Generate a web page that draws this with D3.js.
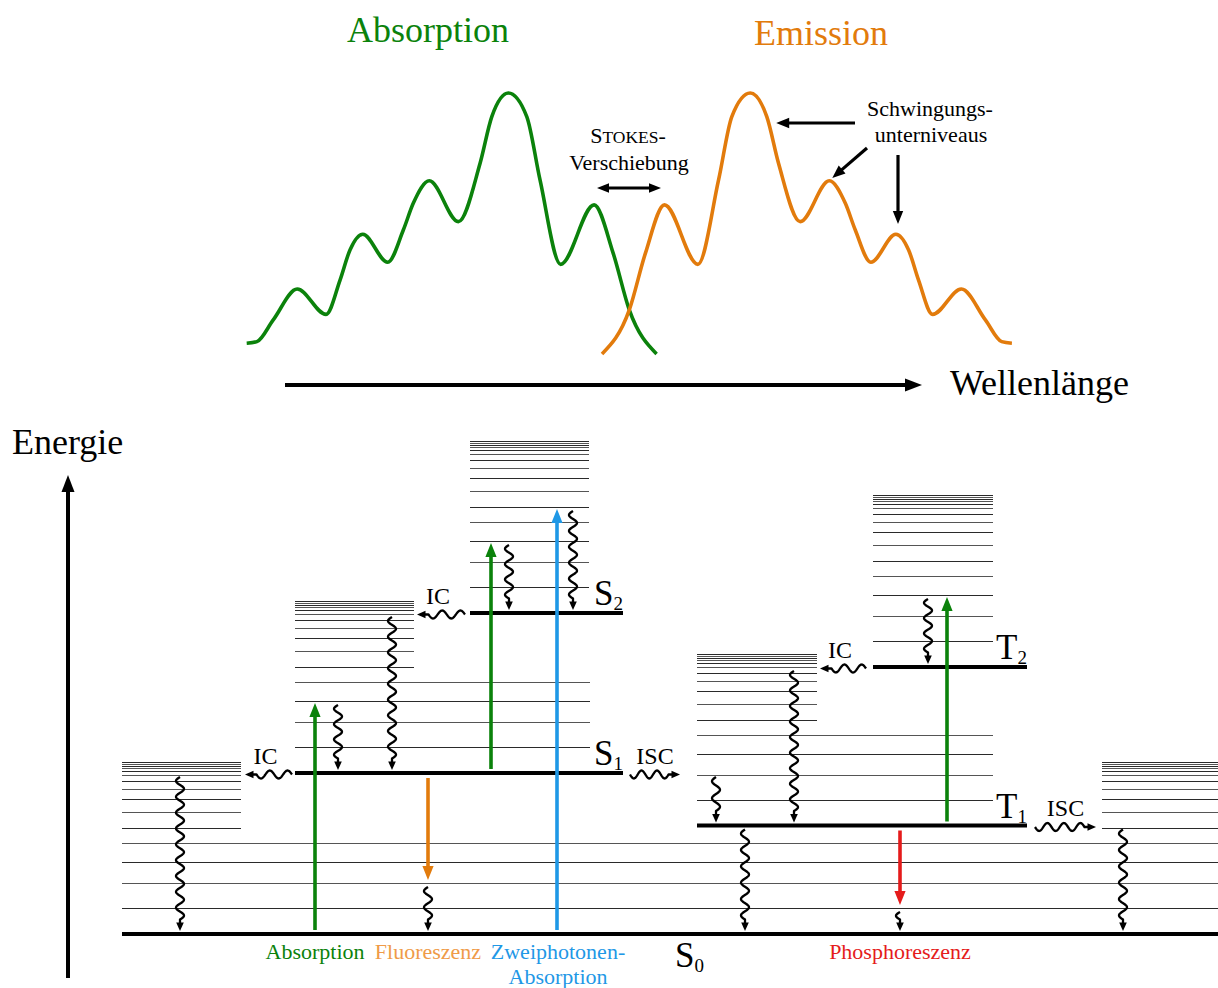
<!DOCTYPE html>
<html>
<head>
<meta charset="utf-8">
<script src="https://cdn.jsdelivr.net/npm/d3@7"></script>
<style>
  html, body { margin: 0; padding: 0; background: #fff; }
  svg { display: block; }
</style>
</head>
<body>
<svg id="chart" width="1218" height="988"></svg>
<script>
// ---------- spectra: wavelength (nm) and relative intensity ----------
const absWavelength = [400.0, 404.0, 410.4, 419.8, 431.1, 436.6, 440.5, 445.5, 455.3, 461.4, 465.3, 471.6,
                       483.0, 491.5, 496.1, 502.6, 509.8, 515.0, 523.1, 536.2, 543.7, 550.0, 560.7];
const absIntensity  = [0.045, 0.051, 0.134, 0.252, 0.155, 0.286, 0.401, 0.461, 0.354, 0.477, 0.579, 0.665,
                       0.509, 0.732, 0.910, 1.000, 0.910, 0.668, 0.346, 0.573, 0.388, 0.172, 0.004];
const emWavelength  = [539.3, 550.0, 556.3, 563.8, 576.9, 585.0, 590.2, 597.4, 603.9, 608.5, 617.0, 628.4,
                       634.7, 638.6, 644.7, 654.5, 659.5, 663.4, 668.9, 680.2, 689.6, 696.0, 700.0];
const emIntensity   = [0.004, 0.172, 0.388, 0.573, 0.346, 0.668, 0.910, 1.000, 0.910, 0.732, 0.509, 0.665,
                       0.579, 0.477, 0.354, 0.461, 0.401, 0.286, 0.155, 0.252, 0.134, 0.051, 0.045];

// ---------- electronic states (energy of vibrational ground level, arb. units) ----------
const stateNames    = ["S0", "S1", "S2", "T1", "T2"];
const stateEnergies = [0, 161, 321, 108.5, 267];
// vibrational sublevels above each electronic ground level
const vibOffsets    = [26, 51, 72, 91, 106, 122, 135, 145, 153, 159, 163, 166, 168, 170, 172];

// ---------- radiative transitions ----------
const radFromState = ["S0", "S1", "S0", "T1", "S1", "T1"];
const radToState   = ["S1", "S2", "S2", "T2", "S0", "S0"];
const radToLevel   = [3, 3, 5, 3, 2, 1];
const radKind      = ["abs", "abs", "tpa", "abs", "fluo", "phos"];

// ---------- vibrational relaxation (start state / sublevel -> ground level of target) ----------
const vrFromState = ["S1", "S1", "S2", "S2", "S2", "S0", "S1", "T2", "T2", "T1", "S0", "T1"];
const vrFromLevel = [0, 3, 0, 3, 5, 2, 0, 0, 3, 0, 1, 0];
const vrToState   = ["S0", "S1", "S1", "S2", "S2", "S0", "T1", "T1", "T2", "S0", "S0", "S0"];

// ---------- crossings between states ----------
const xingLabels = ["IC", "IC", "ISC", "IC", "ISC"];
const xingState  = ["S1", "S2", "S1", "T2", "T1"];

// ---------- text ----------
const bottomLabels = ["Absorption", "Fluoreszenz", "Zweiphotonen-", "Phosphoreszenz"];

// =====================================================================
const W = 1218, H = 988;
const FONT = "'Liberation Serif','Times New Roman',Times,serif";
const COL = {
  green: "#0b820b", orange: "#e27b0c", orangeText: "#ef9b48",
  blue: "#1f98e6", red: "#e51b1b", ink: "#000", level: "#2a2a2a"
};

const svg = d3.select("#chart");

// scales
const xSpec = d3.scaleLinear().domain([400, 700]).range([246.7, 1011.9]);
const ySpec = d3.scaleLinear().domain([0, 1]).range([355, 93]);
const yE    = d3.scaleLinear().domain([0, 500]).range([934, 434]);
const xPos  = d3.scaleLinear().domain([0, W]).range([0, W]);

// horizontal layout of the diagram (diagram units)
const stateLayout = {
  S0: { base: [122, 1218], low: [[122, 1218]], high: [[122, 241], [1102, 1218]] },
  S1: { base: [295, 623],  low: [[295, 590]],  high: [[295, 414]] },
  S2: { base: [470, 623],  low: [[470, 589]],  high: [[470, 589]] },
  T1: { base: [697, 1027], low: [[697, 993]],  high: [[697, 817]] },
  T2: { base: [873, 1027], low: [[873, 993]],  high: [[873, 993]] }
};
const radColumns  = [315, 491, 557, 947, 428, 900];
const vrColumns   = [180, 338, 392, 509, 573, 428, 716, 794, 928, 745, 900, 1123];
const xingSpans   = [[292, 245], [465, 417], [630, 680], [866, 820], [1035, 1096]];
const labelColumns = [315, 428, 558, 900];

function energyOf(state, level) {
  const e = stateEnergies[stateNames.indexOf(state)];
  return e + (level > 0 ? vibOffsets[level - 1] : 0);
}
function levelY(state, level) { return yE(energyOf(state, level)); }

function arrowHead(g, x, y, angle, len, halfW, color) {
  const ux = Math.cos(angle), uy = Math.sin(angle);
  const nx = -uy, ny = ux;
  const bx = x - ux * len, by = y - uy * len;
  g.append("path")
    .attr("d", `M${x},${y}L${bx + nx * halfW},${by + ny * halfW}L${bx - nx * halfW},${by - ny * halfW}Z`)
    .attr("fill", color);
}

function straightArrow(g, x1, y1, x2, y2, color, width, headLen, headW) {
  const ang = Math.atan2(y2 - y1, x2 - x1);
  const L = Math.hypot(x2 - x1, y2 - y1);
  const ex = x1 + Math.cos(ang) * (L - headLen + 1), ey = y1 + Math.sin(ang) * (L - headLen + 1);
  g.append("line").attr("x1", x1).attr("y1", y1).attr("x2", ex).attr("y2", ey)
    .attr("stroke", color).attr("stroke-width", width);
  arrowHead(g, x2, y2, ang, headLen, headW, color);
}

function doubleArrow(g, x1, y, x2, color, width, headLen, headW) {
  g.append("line").attr("x1", x1 + headLen - 1).attr("y1", y).attr("x2", x2 - headLen + 1).attr("y2", y)
    .attr("stroke", color).attr("stroke-width", width);
  arrowHead(g, x2, y, 0, headLen, headW, color);
  arrowHead(g, x1, y, Math.PI, headLen, headW, color);
}

// squiggly arrow for non-radiative processes
function wavyArrow(g, x1, y1, x2, y2, amp, period) {
  const headLen = 8.5, headW = 3.8;
  const L = Math.hypot(x2 - x1, y2 - y1);
  const ux = (x2 - x1) / L, uy = (y2 - y1) / L;
  const nx = -uy, ny = ux;
  const waveLen = Math.max(4, L - headLen - 3);
  const n = Math.max(1, Math.round(2 * waveLen / period));
  const p = 2 * waveLen / n;
  const pts = [];
  for (let t = 0; t <= waveLen + 0.01; t += 0.5) {
    const o = amp * Math.sin(2 * Math.PI * t / p);
    pts.push([x1 + ux * t + nx * o, y1 + uy * t + ny * o]);
  }
  pts.push([x1 + ux * (L - headLen + 1), y1 + uy * (L - headLen + 1)]);
  g.append("path").attr("d", d3.line()(pts))
    .attr("fill", "none").attr("stroke", COL.ink).attr("stroke-width", 2.3)
    .attr("stroke-linejoin", "round");
  arrowHead(g, x2, y2, Math.atan2(uy, ux), headLen, headW, COL.ink);
}

// ---------------- spectra ----------------
const gSpec = svg.append("g");
const specLine = d3.line()
  .x(d => xSpec(d[0])).y(d => ySpec(d[1]))
  .curve(d3.curveMonotoneX);

gSpec.append("path")
  .attr("d", specLine(d3.zip(absWavelength, absIntensity)))
  .attr("fill", "none").attr("stroke", COL.green).attr("stroke-width", 3.6);
gSpec.append("path")
  .attr("d", specLine(d3.zip(emWavelength, emIntensity)))
  .attr("fill", "none").attr("stroke", COL.orange).attr("stroke-width", 3.6);

gSpec.append("text").text("Absorption")
  .attr("x", 428).attr("y", 42).attr("text-anchor", "middle")
  .attr("font-family", FONT).attr("font-size", 36).attr("fill", COL.green);
gSpec.append("text").text("Emission")
  .attr("x", 821).attr("y", 45).attr("text-anchor", "middle")
  .attr("font-family", FONT).attr("font-size", 36).attr("fill", COL.orange);

// Stokes shift annotation
const stokes = gSpec.append("text")
  .attr("x", 628).attr("y", 143).attr("text-anchor", "middle")
  .attr("font-family", FONT).attr("font-size", 22).attr("fill", COL.ink);
stokes.append("tspan").text("S");
stokes.append("tspan").text("TOKES").attr("font-size", 17.5);
stokes.append("tspan").text("-");
gSpec.append("text").text("Verschiebung")
  .attr("x", 629).attr("y", 170).attr("text-anchor", "middle")
  .attr("font-family", FONT).attr("font-size", 22).attr("fill", COL.ink);
doubleArrow(gSpec, xPos(597), 188, xPos(661), COL.ink, 3, 12, 4.8);

// vibrational sublevels annotation
gSpec.append("text").text("Schwingungs-")
  .attr("x", 930).attr("y", 116).attr("text-anchor", "middle")
  .attr("font-family", FONT).attr("font-size", 22).attr("fill", COL.ink);
gSpec.append("text").text("unterniveaus")
  .attr("x", 931).attr("y", 142).attr("text-anchor", "middle")
  .attr("font-family", FONT).attr("font-size", 22).attr("fill", COL.ink);
straightArrow(gSpec, xPos(855), 123, xSpec(597.4) + 26, 123, COL.ink, 3.2, 13, 5.2);
straightArrow(gSpec, xPos(867), 148, xSpec(628.4) + 3, 178, COL.ink, 3.2, 13, 5.2);
straightArrow(gSpec, xPos(898), 155, xPos(898), 224, COL.ink, 3.2, 13, 5.2);

// wavelength axis
straightArrow(gSpec, xPos(285), 385, xPos(922), 385, COL.ink, 4, 17, 6.5);
gSpec.append("text").text("Wellenlänge")
  .attr("x", 950).attr("y", 395)
  .attr("font-family", FONT).attr("font-size", 36).attr("fill", COL.ink);

// ---------------- energy diagram ----------------
// thin vibrational levels snapped to the pixel grid so close lines stay distinct
const snap = y => Math.round(y) + 0.5;
const gLev = svg.append("g");
stateNames.forEach(s => {
  const lay = stateLayout[s];
  vibOffsets.forEach((off, i) => {
    const spans = i < 4 ? lay.low : lay.high;
    spans.forEach(sp => {
      gLev.append("line")
        .attr("x1", xPos(sp[0])).attr("x2", xPos(sp[1]))
        .attr("y1", snap(levelY(s, i + 1))).attr("y2", snap(levelY(s, i + 1)))
        .attr("stroke", i % 2 ? "#555" : COL.level).attr("stroke-width", 1.2);
    });
  });
});
stateNames.forEach(s => {
  const lay = stateLayout[s];
  gLev.append("line")
    .attr("x1", xPos(lay.base[0])).attr("x2", xPos(lay.base[1]))
    .attr("y1", levelY(s, 0)).attr("y2", levelY(s, 0))
    .attr("stroke", COL.ink).attr("stroke-width", 4);
});

// state labels with subscripts
const gLab = svg.append("g").attr("font-family", FONT).attr("fill", COL.ink);
stateNames.forEach(s => {
  const lay = stateLayout[s];
  const isGround = s === "S0";
  const t = gLab.append("text")
    .attr("x", isGround ? xPos(675) : xPos(lay.base[1]))
    .attr("y", isGround ? levelY(s, 0) + 33 : levelY(s, 0) - 8)
    .attr("text-anchor", isGround ? "start" : "end")
    .attr("font-size", 35);
  t.append("tspan").text(s[0]);
  t.append("tspan").text(s[1]).attr("font-size", 19).attr("dy", 5);
});

// energy axis
const gAxis = svg.append("g");
straightArrow(gAxis, xPos(68), 978, xPos(68), 475, COL.ink, 4, 17, 6.5);
gAxis.append("text").text("Energie")
  .attr("x", 12).attr("y", 454)
  .attr("font-family", FONT).attr("font-size", 36).attr("fill", COL.ink);

// radiative transitions
const kindColor = { abs: COL.green, tpa: COL.blue, fluo: COL.orange, phos: COL.red };
const gRad = svg.append("g");
radKind.forEach((k, i) => {
  const x = xPos(radColumns[i]);
  const y0 = levelY(radFromState[i], 0);
  const y1 = levelY(radToState[i], radToLevel[i]);
  const up = y1 < y0;
  const ys = up ? y0 - 4 : y0 + 5;
  const ye = up ? y1 + 2 : y1 - 3;
  straightArrow(gRad, x, ys, x, ye, kindColor[k], 3.6, 14, 5.6);
});

// vibrational relaxation
const gVr = svg.append("g");
vrFromState.forEach((s, i) => {
  const x = xPos(vrColumns[i]);
  const ys = levelY(s, vrFromLevel[i]) + 4;
  const ye = levelY(vrToState[i], 0) - 3;
  wavyArrow(gVr, x, ys, x, ye, 4, 16);
});

// internal conversion / intersystem crossing
xingLabels.forEach((lab, i) => {
  const y = levelY(xingState[i], 0) + 1.5;
  const [xa, xb] = xingSpans[i];
  wavyArrow(gVr, xPos(xa), y, xPos(xb), y, 4, 17);
  gVr.append("text").text(lab)
    .attr("x", xPos((xa + xb) / 2 + (xb > xa ? 0 : -3))).attr("y", y - 11)
    .attr("text-anchor", "middle")
    .attr("font-family", FONT).attr("font-size", 24).attr("fill", COL.ink);
});

// process names under the diagram
const labelColors = [COL.green, COL.orangeText, COL.blue, COL.red];
const gBot = svg.append("g").attr("font-family", FONT).attr("font-size", 22).attr("text-anchor", "middle");
bottomLabels.forEach((lab, i) => {
  gBot.append("text").text(lab)
    .attr("x", xPos(labelColumns[i])).attr("y", 959)
    .attr("fill", labelColors[i]);
});
gBot.append("text").text("Absorption")
  .attr("x", xPos(labelColumns[2])).attr("y", 984)
  .attr("fill", COL.blue);
</script>
</body>
</html>
